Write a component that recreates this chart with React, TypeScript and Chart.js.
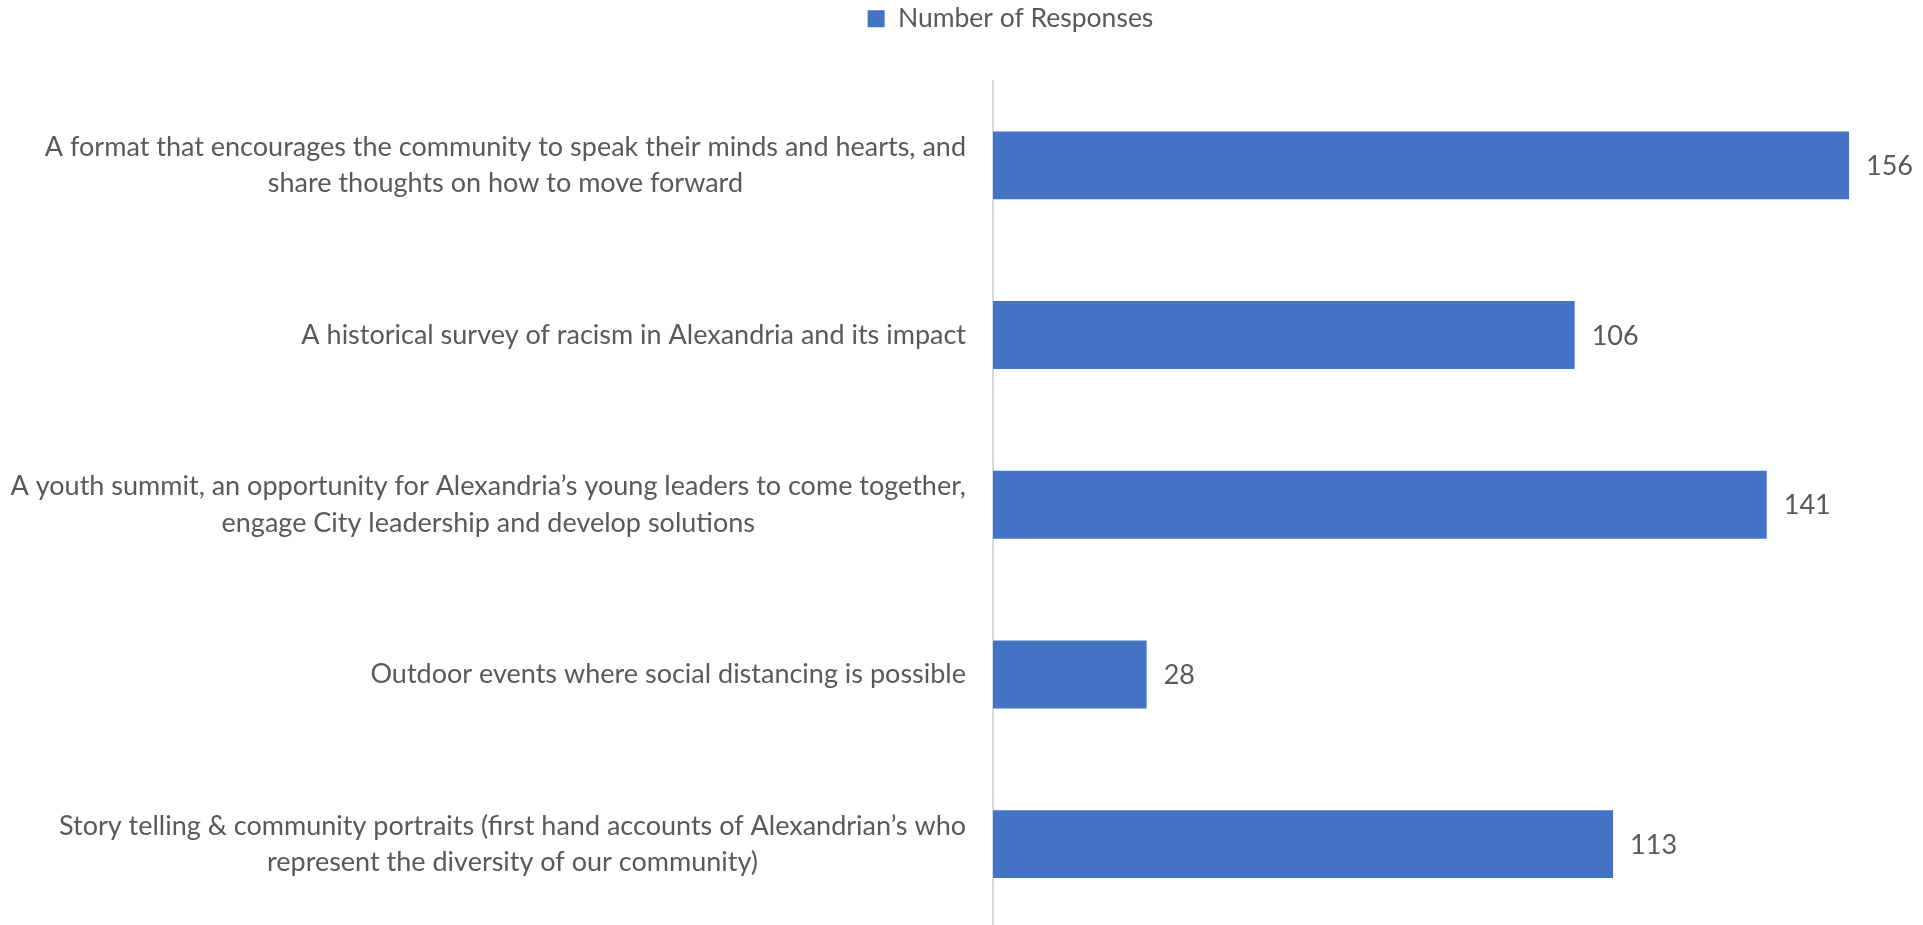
import React, { useEffect, useRef } from "react";
import { Chart, registerables } from "chart.js";

Chart.register(...registerables);

const categories: string[][] = [
  ["A format that encourages the community to speak their minds and hearts, and", "share thoughts on how to move forward"],
  ["A historical survey of racism in Alexandria and its impact"],
  ["A youth summit, an opportunity for Alexandria\u2019s young leaders to come together,", "engage City leadership and develop solutions"],
  ["Outdoor events where social distancing is possible"],
  ["Story telling & community portraits (first hand accounts of Alexandrian\u2019s who", "represent the diversity of our community)"],
];
const responses: number[] = [156, 106, 141, 28, 113];
const seriesName = "Number of Responses";

const FONT = "Lato, 'Open Sans', sans-serif";
const TEXT_COLOR = "#595959";
const BAR_COLOR = "#4472C4";
const LABEL_SIZE = 27;
const VALUE_SIZE = 27;
const LINE_HEIGHT = 36.6;
const LEGEND_H = 80.5;

const labelPlugin = {
  id: "customLabels",
  beforeLayout(chart: any) {
    const lg = chart.legend;
    if (lg && !lg._patched) {
      const orig = lg.fit;
      lg.fit = function () {
        orig.call(this);
        this.height = LEGEND_H;
      };
      lg._patched = true;
    }
  },
  afterDraw(chart: any) {
    const ctx = chart.ctx;
    const yScale = chart.scales.y;
    ctx.save();
    ctx.fillStyle = TEXT_COLOR;
    ctx.font = `${LABEL_SIZE}px ${FONT}`;
    ctx.textBaseline = "middle";
    ctx.textAlign = "center";
    const labels = chart.data.labels as string[][];
    labels.forEach((lines, i) => {
      const y = yScale.getPixelForTick(i);
      const w = Math.max(...lines.map((l) => ctx.measureText(l).width));
      const cx = chart.chartArea.left - 27 - w / 2;
      const n = lines.length;
      lines.forEach((l, j) => {
        ctx.fillText(l, cx, y + (j - (n - 1) / 2) * LINE_HEIGHT);
      });
    });
    const meta = chart.getDatasetMeta(0);
    ctx.font = `${VALUE_SIZE}px ${FONT}`;
    ctx.textAlign = "left";
    meta.data.forEach((el: any, i: number) => {
      ctx.fillText(String(chart.data.datasets[0].data[i]), el.x + 17, el.y + 1);
    });
    ctx.restore();
  },
};

export default function App() {
  const ref = useRef<HTMLCanvasElement>(null);
  useEffect(() => {
    const canvas = ref.current!;
    const chart = new Chart(canvas, {
      type: "bar",
      data: {
        labels: categories,
        datasets: [
          {
            label: seriesName,
            data: responses,
            backgroundColor: BAR_COLOR,
            borderWidth: 0,
            barPercentage: 0.4,
            categoryPercentage: 1,
          },
        ],
      },
      options: {
        indexAxis: "y",
        responsive: false,
        animation: false,
        devicePixelRatio: 1,
        layout: { padding: { left: 150, right: 52, top: 0, bottom: 0 } },
        plugins: {
          legend: {
            display: true,
            position: "top",
            align: "center",
            labels: {
              color: TEXT_COLOR,
              font: { family: FONT, size: 26.5 },
              boxWidth: 17,
              boxHeight: 17,
              padding: 5.5,
            },
          },
          tooltip: { enabled: false },
        },
        scales: {
          x: {
            display: false,
            min: 0,
            max: 160,
          },
          y: {
            display: true,
            offset: true,
            ticks: { display: false },
            grid: { display: false, drawTicks: false },
            border: { display: true, color: "#D9D9D9", width: 2 },
            afterFit: (scale: any) => {
              scale.width = 993 - 150;
            },
          },
        },
      },
      plugins: [labelPlugin],
    });
    return () => chart.destroy();
  }, []);
  return (
    <div style={{ position: "fixed", left: 0, top: 0, width: 1923, height: 925, overflow: "hidden", background: "#fff" }}>
      <canvas ref={ref} width={1923} height={929} style={{ width: 1923, height: 929, display: "block" }} />
    </div>
  );
}
